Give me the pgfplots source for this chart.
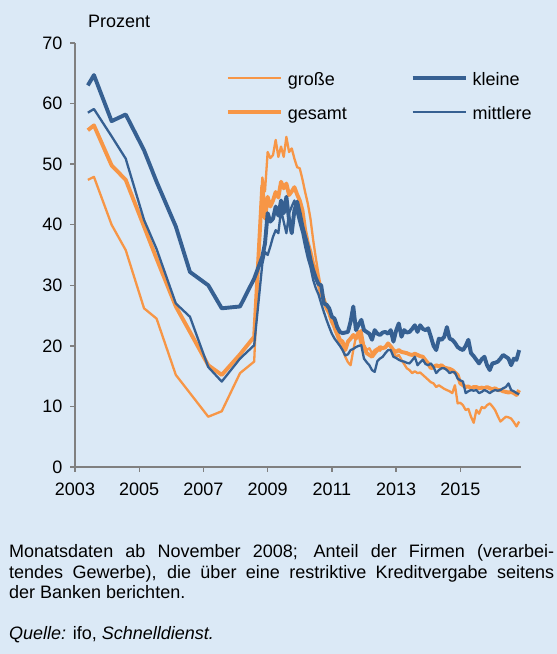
\documentclass[border=0pt]{standalone}
\usepackage{fontspec}
\setmainfont{Liberation Sans}
\usepackage{pgfplots}
\pgfplotsset{compat=1.18}
\usepackage{pgfplotstable}
\definecolor{bg}{RGB}{219,233,246}
\definecolor{orng}{RGB}{247,150,70}
\definecolor{blu}{RGB}{54,96,146}
\definecolor{axgray}{RGB}{128,128,128}

% g = grosse, t = gesamt, k = kleine, m = mittlere
\pgfplotstableread{
x g t k m
2003.40 47.4 55.6 63.0 58.5
2003.59 47.9 56.4 64.7 59.1
2004.14 40.0 49.8 57.1 54.6
2004.58 35.8 47.4 58.2 50.9
2005.15 26.2 39.7 52.3 40.8
2005.54 24.5 34.4 47.1 36.0
2006.14 15.2 26.5 39.7 27.0
2006.58 12.2 22.3 32.2 24.8
2007.15 8.3 16.8 30.0 16.5
2007.57 9.2 15.2 26.2 14.1
2008.14 15.5 18.6 26.5 17.9
2008.58 17.4 21.5 31.1 20.1
2008.833 47.8 46.5 34.7 33.5
2008.917 45.5 41.0 36.9 35.5
2009.000 52.0 44.6 41.9 35.0
2009.083 51.0 43.0 40.5 36.4
2009.167 51.5 44.0 41.0 38.0
2009.250 54.0 45.4 43.0 39.1
2009.333 51.2 44.5 41.5 38.6
2009.417 52.9 47.1 44.0 42.4
2009.500 51.2 46.0 41.9 40.5
2009.583 54.5 46.8 44.6 38.6
2009.667 52.0 44.9 40.8 41.9
2009.750 52.6 45.5 38.6 43.0
2009.833 50.9 46.2 42.4 44.0
2009.917 49.5 45.0 43.8 41.9
2010.000 49.3 44.0 41.9 40.2
2010.083 47.5 42.4 39.7 38.6
2010.167 45.4 39.1 38.0 36.4
2010.250 43.5 37.0 36.4 34.5
2010.333 41.0 35.5 34.2 33.0
2010.417 37.5 33.5 32.5 30.9
2010.500 34.5 32.5 31.2 29.5
2010.583 31.8 30.3 30.2 28.5
2010.667 29.5 28.5 30.0 27.0
2010.750 28.0 27.6 27.0 25.6
2010.833 26.5 26.2 26.8 24.3
2010.917 25.3 25.4 26.2 23.1
2011.000 23.9 24.0 24.8 22.0
2011.083 22.6 23.2 24.5 21.2
2011.167 21.5 22.1 23.1 20.6
2011.250 20.3 21.0 22.3 20.0
2011.333 19.5 20.7 22.1 19.3
2011.417 18.2 19.3 22.2 18.4
2011.500 17.3 20.7 22.3 18.6
2011.583 16.8 21.2 24.0 19.3
2011.667 19.3 21.8 26.5 19.5
2011.750 21.5 21.2 22.6 19.8
2011.833 22.1 22.3 23.5 20.0
2011.917 22.6 20.5 24.3 20.1
2012.000 20.2 19.8 22.6 17.9
2012.083 19.3 18.8 22.3 17.3
2012.167 19.6 18.5 22.0 16.8
2012.250 18.8 18.2 21.0 16.0
2012.333 19.3 18.8 22.6 15.7
2012.417 19.6 19.3 22.0 17.5
2012.500 19.2 19.8 21.8 17.9
2012.583 19.8 19.6 22.2 18.2
2012.667 19.6 19.8 22.3 18.8
2012.750 20.4 20.4 22.0 19.3
2012.833 19.8 19.9 22.6 19.3
2012.917 19.0 19.3 20.7 18.2
2013.000 18.2 19.0 22.5 18.0
2013.083 18.5 19.3 23.7 17.7
2013.167 17.7 19.0 21.5 17.5
2013.250 17.0 18.9 22.6 17.4
2013.333 16.3 18.8 22.2 17.2
2013.417 16.0 18.6 22.3 17.1
2013.500 15.5 18.5 22.8 17.6
2013.583 15.8 18.7 23.4 18.2
2013.667 15.5 18.5 22.3 16.8
2013.750 15.6 18.3 23.4 17.3
2013.833 15.2 18.2 22.8 17.7
2013.917 14.8 17.6 22.6 17.0
2014.000 14.4 17.1 22.9 16.8
2014.083 14.0 16.3 21.5 17.1
2014.167 13.8 16.5 20.0 16.5
2014.250 13.2 16.8 19.3 15.5
2014.333 13.5 16.6 21.2 16.0
2014.417 13.2 16.8 21.0 16.3
2014.500 12.9 16.4 21.5 16.3
2014.583 12.7 16.3 23.1 16.0
2014.667 12.5 16.2 21.2 15.5
2014.750 12.2 16.0 21.0 15.7
2014.833 13.5 15.6 20.5 15.6
2014.917 10.5 15.2 19.8 14.6
2015.000 10.6 13.8 19.5 14.3
2015.083 10.2 13.5 19.3 14.1
2015.167 9.4 13.2 20.0 12.2
2015.250 9.6 13.3 21.0 12.5
2015.333 8.3 13.0 18.8 12.7
2015.417 7.3 13.2 18.3 12.6
2015.500 9.4 13.2 17.7 12.7
2015.583 8.8 13.0 17.1 12.2
2015.667 9.9 13.1 17.8 12.4
2015.750 9.7 13.0 18.2 12.7
2015.833 10.2 13.2 16.8 12.5
2015.917 10.5 13.0 16.0 12.2
2016.000 10.0 12.8 17.1 12.5
2016.083 9.4 13.0 17.2 12.7
2016.167 8.4 12.7 17.4 12.6
2016.250 7.5 12.7 17.9 12.7
2016.333 7.9 12.5 18.5 13.0
2016.417 8.3 12.4 18.2 13.2
2016.500 8.2 12.3 17.9 13.8
2016.583 8.0 12.4 16.8 12.7
2016.667 7.4 12.2 17.9 12.5
2016.750 6.7 11.9 17.7 12.2
2016.833 7.5 12.7 19.3 12.0
}\data

\begin{document}
\begin{tikzpicture}
\fill[bg] (0pt,0pt) rectangle (557pt,654pt);
\useasboundingbox (0pt,0pt) rectangle (557pt,654pt);
\begin{axis}[
  at={(75pt,187pt)}, anchor=south west,
  scale only axis, width=446pt, height=424pt,
  xmin=2003, xmax=2016.89, ymin=0, ymax=70,
  axis x line=bottom, axis y line=left,
  axis line style={draw=axgray, line width=1.4pt, -},
  xtick={2003,2005,...,2015}, ytick={0,10,...,70},
  minor tick num=0,
  tick align=outside, major tick length=5pt,
  tick style={draw=axgray, line width=1.3pt},
  ticklabel style={font=\fontsize{18}{21}\selectfont, text=black},
  xticklabel style={yshift=-7pt},
  yticklabel style={xshift=-4pt},
  /pgf/number format/assume math mode=true,
  /pgf/number format/1000 sep={},
  clip=false,
  legend columns=2,
  legend cell align=left,
  legend image code/.code={\draw[#1] (0pt,0pt) -- (53pt,0pt);},
  legend style={
    at={(0.3386,0.8774)}, anchor=west,
    draw=none, fill=none, inner sep=0pt, outer sep=0pt,
    font=\fontsize{18}{21}\selectfont,
    column sep=5pt,
    /tikz/every even column/.append style={column sep=64pt},
    row sep=17pt,
    nodes={inner sep=0pt, text height=16pt, text depth=1pt},
  },
]
\addlegendimage{orng, line width=2.2pt}
\addlegendentry{große}
\addlegendimage{blu, line width=3.8pt}
\addlegendentry{kleine}
\addlegendimage{orng, line width=3.8pt}
\addlegendentry{gesamt}
\addlegendimage{blu, line width=2.2pt}
\addlegendentry{mittlere}

\addplot[forget plot, orng, line width=2.3pt, line join=round] table[x=x, y=g] {\data};
\addplot[forget plot, orng, line width=3.9pt, line join=round] table[x=x, y=t] {\data};
\addplot[forget plot, blu, line width=3.9pt, line join=round] table[x=x, y=k] {\data};
\addplot[forget plot, blu, line width=2.3pt, line join=round] table[x=x, y=m] {\data};
\end{axis}
\node[anchor=base west, inner sep=0pt, font=\fontsize{18}{21}\selectfont] at (88pt,626pt) {Prozent};
\begin{scope}[every node/.style={anchor=base west, inner sep=0pt, font=\fontsize{18}{21}\selectfont}]
\node at (9pt,96pt) {\makebox[545pt][s]{Monatsdaten ab November 2008; Anteil der Firmen (verarbei-}};
\node at (9pt,75pt) {\makebox[545pt][s]{tendes Gewerbe), die über eine restriktive Kreditvergabe seitens}};
\node at (9pt,55pt) {der Banken berichten.};
\node at (9pt,14pt) {\textit{Quelle:} ifo, \textit{Schnelldienst.}};
\end{scope}
\end{tikzpicture}
\end{document}
